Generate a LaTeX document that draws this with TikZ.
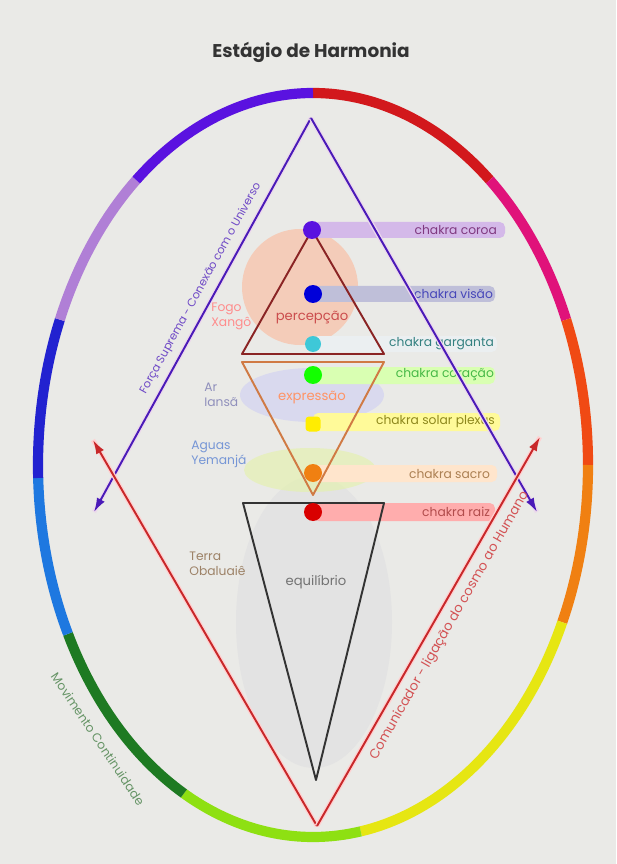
\documentclass[tikz,border=0pt]{standalone}
\usepackage{fontspec}
\setmainfont{Poppins}
\usetikzlibrary{positioning, arrows.meta, calc}

\definecolor{bg}{HTML}{EAEAE7}
\definecolor{rviolet}{HTML}{5A12E0}
\definecolor{rred}{HTML}{D2181C}
\definecolor{rpink}{HTML}{E0127A}
\definecolor{rorred}{HTML}{F04A14}
\definecolor{rorange}{HTML}{F08012}
\definecolor{ryellow}{HTML}{E6E612}
\definecolor{rlime}{HTML}{8EE012}
\definecolor{rgreen}{HTML}{1E7A22}
\definecolor{rlblue}{HTML}{1E78E0}
\definecolor{rblue}{HTML}{2222D0}
\definecolor{rlav}{HTML}{B07FD6}
\definecolor{vline}{HTML}{4A1AB8}
\definecolor{redline}{HTML}{C8282A}
\definecolor{pline}{HTML}{8A2424}
\definecolor{eline}{HTML}{D07A44}

\begin{document}
\begin{tikzpicture}[
    x=0.02cm, y=0.02cm,
    ring/.style={line width=5.8pt},
    chakra/.style={circle, inner sep=0pt, minimum size=0.36cm},
    bartext/.style={font=\fontsize{7}{8}\selectfont, anchor=east, inner sep=1pt},
    sidetext/.style={font=\fontsize{7}{8.5}\selectfont, align=left, anchor=west, inner sep=0pt},
    midtext/.style={font=\fontsize{7.5}{9}\selectfont, inner sep=0pt},
    tri/.style={line width=1.1pt, line join=round},
    arrow/.style={->, >={Latex[length=8pt,width=5pt]}, line width=1.1pt}
]
    % --- Background ---
    \fill[bg] (0,0) rectangle (616,-864);
    \useasboundingbox (0,0) rectangle (616,-864);

    % --- Title ---
    \node[font=\fontsize{10.5}{12}\selectfont\bfseries, text=black!80] (title) at (311,-52) {Estágio de Harmonia};

    % --- Colour ring ---
    \coordinate (ctr) at (313,-465);
    \draw[ring, rred] (ctr) ++(90:275 and 372) arc[start angle=90, end angle=50, x radius=275, y radius=372];
    \draw[ring, rpink] (ctr) ++(50:275 and 372) arc[start angle=50, end angle=23, x radius=275, y radius=372];
    \draw[ring, rorred] (ctr) ++(23:275 and 372) arc[start angle=23, end angle=0, x radius=275, y radius=372];
    \draw[ring, rorange] (ctr) ++(0:275 and 372) arc[start angle=0, end angle=-25, x radius=275, y radius=372];
    \draw[ring, ryellow] (ctr) ++(-25:275 and 372) arc[start angle=-25, end angle=-80, x radius=275, y radius=372];
    \draw[ring, rlime] (ctr) ++(-80:275 and 372) arc[start angle=-80, end angle=-118, x radius=275, y radius=372];
    \draw[ring, rgreen] (ctr) ++(-118:275 and 372) arc[start angle=-118, end angle=-153, x radius=275, y radius=372];
    \draw[ring, rlblue] (ctr) ++(-153:275 and 372) arc[start angle=-153, end angle=-178, x radius=275, y radius=372];
    \draw[ring, rblue] (ctr) ++(-178:275 and 372) arc[start angle=-178, end angle=-203, x radius=275, y radius=372];
    \draw[ring, rlav] (ctr) ++(-203:275 and 372) arc[start angle=-203, end angle=-230, x radius=275, y radius=372];
    \draw[ring, rviolet] (ctr) ++(-230:275 and 372) arc[start angle=-230, end angle=-270, x radius=275, y radius=372];

    % --- Soft areas ---
    \fill[black!11] (314,-622) ellipse (78 and 146);
    \fill[red!40!orange!45!white, opacity=0.5] (300,-287) circle (58);
    \fill[blue!30!white, opacity=0.3] (312,-395) ellipse (72 and 27);
    \fill[yellow!70!green!35!white, opacity=0.6] (310,-470) ellipse (66 and 22);

    % --- Chakra bars ---
    \fill[rlav!55!white, rounded corners=3pt] (313,-222) rectangle (505,-238);
    \fill[blue!25!gray!40!white, rounded corners=3pt] (313,-286) rectangle (495,-302);
    \fill[cyan!20!gray!15!white, rounded corners=3pt] (313,-336) rectangle (497,-352);
    \fill[green!50!yellow!30!white, rounded corners=3pt] (313,-367) rectangle (495,-384);
    \fill[yellow!40!white, rounded corners=3pt] (313,-413) rectangle (500,-431);
    \fill[orange!20!white, rounded corners=3pt] (313,-465) rectangle (497,-482);
    \fill[red!32!white, rounded corners=3pt] (313,-503) rectangle (495,-521);

    \node[bartext, text=violet!55!gray] (lbl_coroa) at (499,-230) {chakra coroa};
    \node[bartext, text=blue!45!gray] (lbl_visao) at (495,-294) {chakra visão};
    \node[bartext, text=teal!60!gray] (lbl_garganta) at (496,-344) {chakra garganta};
    \node[bartext, text=green!45!gray] (lbl_coracao) at (496,-375) {chakra coração};
    \node[bartext, text=olive!80!gray] (lbl_solar) at (497,-422) {chakra solar plexus};
    \node[bartext, text=brown!70!gray] (lbl_sacro) at (492,-474) {chakra sacro};
    \node[bartext, text=red!40!gray] (lbl_raiz) at (492,-512) {chakra raiz};

    % --- Inner triangles ---
    \coordinate (p_top) at (312,-230);
    \coordinate (p_left) at (242,-354);
    \coordinate (p_right) at (384,-354);
    \draw[tri, pline] (p_top) -- (p_left) -- (p_right) -- cycle;

    \coordinate (e_left) at (242,-362);
    \coordinate (e_right) at (384,-362);
    \coordinate (e_bot) at (313,-495);
    \draw[tri, eline] (e_left) -- (e_right) -- (e_bot) -- cycle;

    \coordinate (q_left) at (243,-503);
    \coordinate (q_right) at (384,-503);
    \coordinate (q_bot) at (316,-780);
    \draw[tri, black!80] (q_left) -- (q_right) -- (q_bot) -- cycle;

    % --- Chakras ---
    \node[chakra, fill=rviolet] (coroa) at (312,-230) {};
    \node[chakra, fill=blue!85!black] (visao) at (313,-294) {};
    \node[chakra, fill={rgb,255:red,62;green,200;blue,216}, minimum size=0.32cm] (garganta) at (313,-344) {};
    \node[chakra, fill=green!90!lime] (coracao) at (313,-375) {};
    \node[chakra, fill=yellow!95!orange, rectangle, rounded corners=2pt, minimum size=0.3cm] (solar) at (313,-424) {};
    \node[chakra, fill=rorange] (sacro) at (313,-473) {};
    \node[chakra, fill=red!85!black] (raiz) at (313,-512) {};

    % --- Element labels ---
    \node[sidetext, text=red!45!white] (fogo) at (211,-316) {Fogo\\Xangô};
    \node[sidetext, text=blue!25!gray!70] (ar) at (204,-395) {Ar\\Iansã};
    \node[sidetext, text={rgb,255:red,118;green,150;blue,214}] (aguas) at (191,-454) {Aguas\\Yemanjá};
    \node[sidetext, text=brown!60!black!70] (terra) at (189,-564) {Terra\\Obaluaiê};

    \node[midtext, text=red!55!gray!90] (percepcao) at (312,-318) {percepção};
    \node[midtext, text=orange!60!red!60!white] (expressao) at (312,-398) {expressão};
    \node[midtext, text=black!55] (equilibrio) at (316,-582) {equilíbrio};

    % --- Big arrows ---
    \coordinate (apex) at (311,-118);
    \coordinate (v_left) at (94,-512);
    \coordinate (v_right) at (537,-512);
    \coordinate (r_bot) at (317,-826);
    \coordinate (r_left) at (93,-440);
    \coordinate (r_right) at (540,-437);

    \draw[arrow, vline, preaction={draw, violet!15, line width=2.6pt, -}] (apex) -- (v_left)
        node[pos=0.45, sloped, above=1pt, font=\fontsize{6.4}{8}\selectfont, text=vline!80] (forca) {Força Suprema - Conexão com o Universo};
    \draw[arrow, vline, preaction={draw, violet!15, line width=2.6pt, -}] (apex) -- (v_right);
    \draw[arrow, redline, preaction={draw, red!18, line width=2.6pt, -}] (r_bot) -- (r_left);
    \draw[arrow, redline, preaction={draw, red!18, line width=2.6pt, -}] (r_bot) -- (r_right)
        node[pos=0.535, sloped, below=1pt, font=\fontsize{7.5}{9}\selectfont, text=redline!80] (comunicador) {Comunicador - ligação do cosmo ao Humano};

    % --- Ring label ---
    \node[font=\fontsize{7}{8}\selectfont, text=green!30!black!60, rotate=-56] (movimento) at (98,-739) {Movimento Continuidade};
\end{tikzpicture}
\end{document}
